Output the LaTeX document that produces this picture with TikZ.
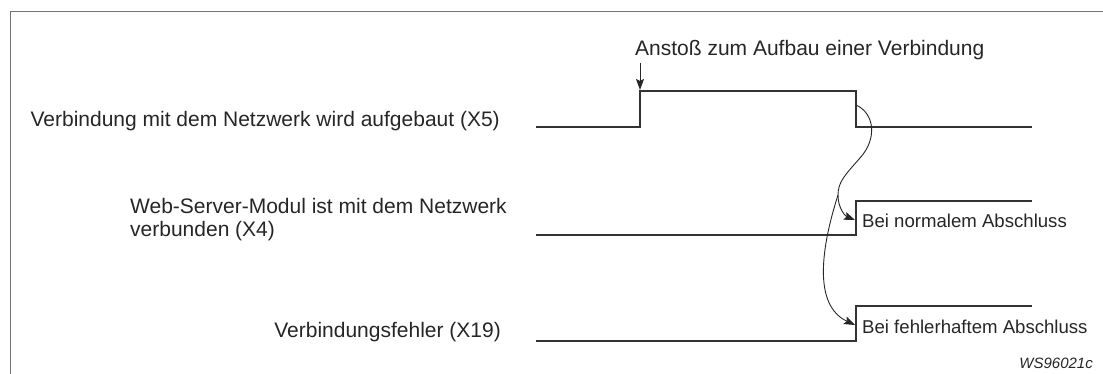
\documentclass[tikz,border=0pt]{standalone}
\usepackage{fontspec}
\setmainfont{Liberation Sans}
\usepackage{xcolor}
\usepackage{tikz}
\usetikzlibrary{arrows.meta}

\begin{document}
\begin{tikzpicture}[x=1pt,y=-1pt,>={Stealth[length=11pt,width=8pt,inset=2pt]},
  signal/.style={line width=1.3pt,draw=black!80,line join=miter},
  event/.style={->,line width=0.9pt,draw=black!85},
  frame/.style={line width=0.9pt,draw=black!55},
  name node/.style={inner sep=0pt,text=black!85,font=\fontsize{21}{23}\selectfont},
  note node/.style={inner sep=0pt,text=black!85,font=\fontsize{18.6}{22}\selectfont}]

  \useasboundingbox (0,0) rectangle (1103,374);
  \draw[frame] (10,374) -- (10,11) -- (1103,11);

  % signal names
  \node[name node,anchor=base east] (x5) at (500,127) {Verbindung mit dem Netzwerk wird aufgebaut (X5)};
  \node[name node,anchor=west,align=left] (x4) at (130,220) {Web-Server-Modul ist mit dem Netzwerk\\verbunden (X4)};
  \node[name node,anchor=base east] (x19) at (501,337) {Verbindungsfehler (X19)};

  % time lines
  \draw[signal] (536,127) -- (640,127) -- (640,91) -- (856,91) -- (856,127) -- (1032,127);
  \draw[signal] (536,235) -- (856,235) -- (856,201) -- (1032,201);
  \draw[signal] (536,341) -- (856,341) -- (856,306) -- (1032,306);

  % trigger
  \node[name node,anchor=base west] (start) at (635,56) {Anstoß zum Aufbau einer Verbindung};
  \coordinate (rise) at (640,90);
  \draw[event] (640,63) -- (rise);

  \node[note node,anchor=base west] (ok) at (862,228) {Bei normalem Abschluss};
  \node[note node,anchor=base west] (err) at (862,333) {Bei fehlerhaftem Abschluss};
  \node[inner sep=0pt,text=black!85,anchor=base east,font=\fontsize{15}{18}\selectfont\itshape] (id) at (1093,368) {WS96021c};

  % results of the falling edge
  \coordinate (fall) at (856,105);
  \coordinate (turn) at (860,158);
  \coordinate (fork) at (838,195);
  \coordinate (okend) at (855,220);
  \coordinate (errend) at (855,325);
  \draw[event] (fall) .. controls (874,113) and (878,138) .. (turn)
    .. controls (845,175) and (838,182) .. (fork)
    .. controls (838,208) and (845,216) .. (okend);
  \draw[event] (fork) .. controls (822,245) and (812,305) .. (errend);
\end{tikzpicture}
\end{document}
